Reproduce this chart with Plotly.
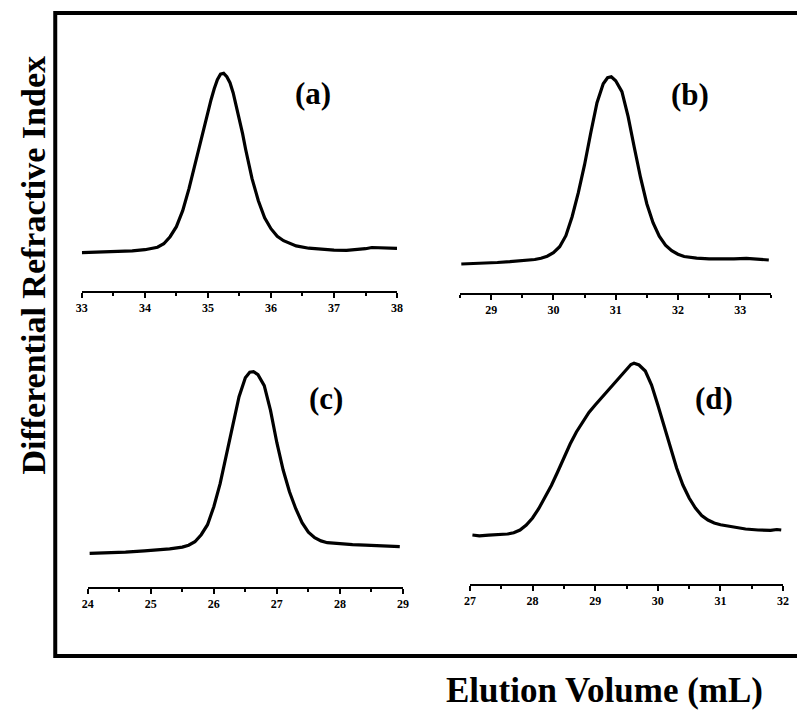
import plotly.graph_objects as go

# ---- data (elution volume in mL, detector signal in arbitrary units) ----
vol_a = [33.0, 33.2, 33.4, 33.6, 33.8, 34.0, 34.1, 34.2, 34.3, 34.4, 34.5, 34.6, 34.7, 34.8, 34.9,
         35.0, 35.05, 35.1, 35.15, 35.2, 35.25, 35.3, 35.35, 35.4, 35.45, 35.5, 35.55, 35.6, 35.7,
         35.8, 35.9, 36.0, 36.1, 36.2, 36.3, 36.4, 36.6, 36.8, 37.0, 37.2, 37.4, 37.5, 37.6, 37.7,
         37.8, 38.0]
sig_a = [0.380, 0.383, 0.386, 0.392, 0.398, 0.410, 0.420, 0.435, 0.470, 0.540, 0.640, 0.800, 1.020,
         1.280, 1.550, 1.800, 1.910, 2.020, 2.110, 2.165, 2.174, 2.140, 2.080, 1.980, 1.850, 1.720,
         1.570, 1.410, 1.120, 0.900, 0.730, 0.620, 0.545, 0.500, 0.470, 0.448, 0.425, 0.412, 0.405,
         0.404, 0.410, 0.420, 0.432, 0.428, 0.424, 0.424]

vol_b = [28.52, 28.7, 28.9, 29.1, 29.3, 29.5, 29.7, 29.8, 29.9, 30.0, 30.1, 30.2, 30.3, 30.4, 30.5,
         30.6, 30.7, 30.8, 30.87, 30.93, 31.0, 31.1, 31.2, 31.3, 31.4, 31.5, 31.6, 31.7, 31.8, 31.9,
         32.0, 32.1, 32.3, 32.5, 32.7, 32.9, 33.1, 33.3, 33.46]
sig_b = [0.287, 0.290, 0.296, 0.302, 0.310, 0.318, 0.332, 0.345, 0.365, 0.400, 0.460, 0.570, 0.760,
         1.000, 1.280, 1.600, 1.900, 2.090, 2.150, 2.160, 2.120, 2.010, 1.760, 1.450, 1.150, 0.890,
         0.700, 0.565, 0.475, 0.420, 0.385, 0.362, 0.345, 0.338, 0.334, 0.338, 0.344, 0.335, 0.327]

vol_c = [24.03, 24.3, 24.6, 24.9, 25.1, 25.3, 25.5, 25.6, 25.7, 25.8, 25.9, 26.0, 26.1, 26.2, 26.3,
         26.4, 26.5, 26.57, 26.63, 26.7, 26.8, 26.9, 27.0, 27.1, 27.2, 27.3, 27.4, 27.5, 27.6, 27.7,
         27.8, 28.0, 28.2, 28.4, 28.6, 28.8, 28.95]
sig_c = [0.334, 0.338, 0.346, 0.358, 0.366, 0.378, 0.396, 0.415, 0.450, 0.520, 0.620, 0.800, 1.030,
         1.310, 1.620, 1.900, 2.090, 2.145, 2.150, 2.120, 2.010, 1.760, 1.440, 1.167, 0.950, 0.780,
         0.640, 0.545, 0.490, 0.458, 0.440, 0.428, 0.420, 0.416, 0.410, 0.405, 0.400]

vol_d = [27.04, 27.15, 27.3, 27.45, 27.6, 27.7, 27.8, 27.9, 28.0, 28.1, 28.2, 28.3, 28.4, 28.5, 28.6,
         28.7, 28.8, 28.9, 29.0, 29.1, 29.2, 29.3, 29.4, 29.5, 29.57, 29.62, 29.7, 29.8, 29.9, 30.0,
         30.1, 30.2, 30.3, 30.4, 30.5, 30.6, 30.7, 30.8, 30.9, 31.0, 31.2, 31.4, 31.6, 31.8, 31.9,
         31.97]
sig_d = [0.490, 0.482, 0.488, 0.490, 0.500, 0.512, 0.540, 0.590, 0.660, 0.755, 0.865, 0.985, 1.120,
         1.260, 1.400, 1.520, 1.620, 1.715, 1.790, 1.860, 1.930, 2.000, 2.070, 2.150, 2.195, 2.207,
         2.190, 2.130, 1.990, 1.790, 1.573, 1.360, 1.160, 0.990, 0.860, 0.760, 0.685, 0.640, 0.610,
         0.592, 0.570, 0.550, 0.540, 0.536, 0.545, 0.540]

x_ranges = [[33, 38], [28.5, 33.5], [24, 29], [27, 32]]
x_tickvals = [[33, 34, 35, 36, 37, 38], [29, 30, 31, 32, 33], [24, 25, 26, 27, 28, 29], [27, 28, 29, 30, 31, 32]]
panel_labels = ["(a)", "(b)", "(c)", "(d)"]

W, H = 797, 713
SERIF = "Liberation Serif, Times New Roman, serif"

# panel geometry in pixels: (left, right, axis line y)
panels_px = [(77, 397, 290.7), (461, 777, 292.7), (83, 403, 586.7), (471, 789, 584.0)]
label_px = [(312, 93), (694, 95), (325, 399), (719, 398)]
Y_SPAN_PX = 250
Y_MAX = 2.5

fig = go.Figure()
series = [(vol_a, sig_a), (vol_b, sig_b), (vol_c, sig_c), (vol_d, sig_d)]
for i, (xv, yv) in enumerate(series):
    n = "" if i == 0 else str(i + 1)
    fig.add_trace(go.Scatter(x=xv, y=yv, mode="lines", xaxis="x" + n, yaxis="y" + n,
                             line=dict(color="black", width=3.2),
                             showlegend=False, hoverinfo="skip"))
    l, r, ay = panels_px[i]
    xd = [l / W, r / W]
    yd = [1 - ay / H, 1 - (ay - Y_SPAN_PX) / H]
    fig.layout["xaxis" + n] = dict(
        domain=xd, range=x_ranges[i], anchor="y" + n, showgrid=False, zeroline=False,
        showline=True, linecolor="black", linewidth=2, ticks="outside", ticklen=5, tickwidth=2,
        tickcolor="black", tickvals=x_tickvals[i],
        tickfont=dict(family=SERIF, size=12, color="black", weight="bold"),
        minor=dict(dtick=0.5, tick0=0, ticks="outside", ticklen=3, tickwidth=2, tickcolor="black"),
    )
    fig.layout["yaxis" + n] = dict(domain=yd, range=[0, Y_MAX], anchor="x" + n, visible=False)
    lx, ly = label_px[i]
    fig.add_annotation(x=lx / W, y=1 - ly / H, xref="paper", yref="paper", text=panel_labels[i],
                       xanchor="center", yanchor="middle", showarrow=False,
                       font=dict(family=SERIF, size=31, color="black", weight="bold"))

# outer frame
fig.add_shape(type="rect", xref="paper", yref="paper", x0=50 / W, x1=1.05, y0=1 - 656 / H, y1=1 - 13 / H,
              line=dict(color="black", width=4), fillcolor="rgba(0,0,0,0)")

fig.add_annotation(x=27 / W, y=1 - 265 / H, xref="paper", yref="paper", text="Differential Refractive Index",
                   textangle=-90, xanchor="center", yanchor="middle", showarrow=False,
                   font=dict(family=SERIF, size=34, color="black", weight="bold"))
fig.add_annotation(x=608 / W, y=1 - 690 / H, xref="paper", yref="paper", text="Elution Volume (mL)",
                   xanchor="center", yanchor="middle", showarrow=False,
                   font=dict(family=SERIF, size=35, color="black", weight="bold"))

fig.update_layout(width=W, height=H, margin=dict(l=0, r=0, t=0, b=0),
                  paper_bgcolor="white", plot_bgcolor="white")
fig.write_html("out.html", config={"displayModeBar": False, "staticPlot": True},
               post_script="document.body.style.margin='0';document.body.style.overflow='hidden';")
